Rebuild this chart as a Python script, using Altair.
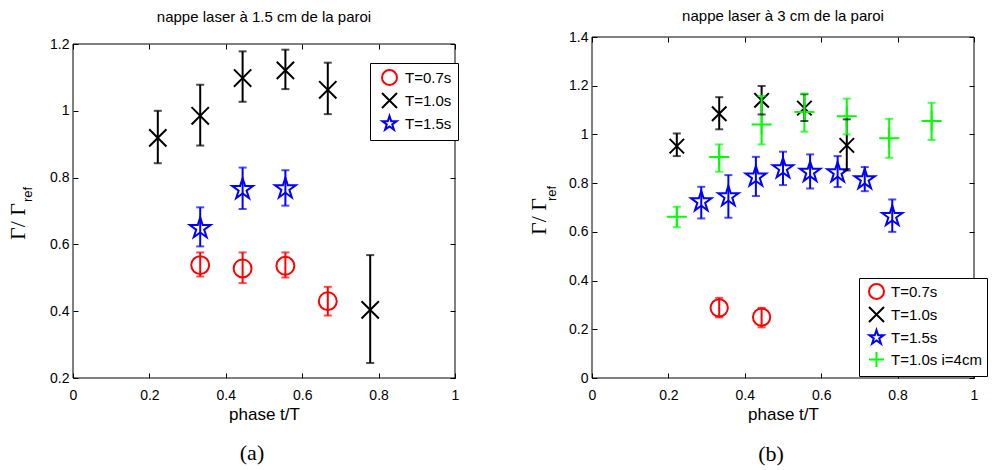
import altair as alt
import pandas as pd

# ---------------- data ----------------
series_a = ["T=0.7s", "T=1.0s", "T=1.5s"]
series_b = ["T=0.7s", "T=1.0s", "T=1.5s", "T=1.0s i=4cm"]

# panel (a): laser sheet at 1.5 cm
a07_x = [0.333, 0.444, 0.556, 0.667]
a07_y = [0.538, 0.528, 0.536, 0.430]
a07_lo = [0.504, 0.484, 0.501, 0.387]
a07_hi = [0.576, 0.576, 0.576, 0.473]

a10_x = [0.222, 0.333, 0.444, 0.556, 0.667, 0.778]
a10_y = [0.919, 0.985, 1.098, 1.121, 1.063, 0.404]
a10_lo = [0.843, 0.896, 1.027, 1.065, 0.990, 0.245]
a10_hi = [1.000, 1.078, 1.178, 1.183, 1.144, 0.568]

a15_x = [0.333, 0.444, 0.556]
a15_y = [0.648, 0.765, 0.767]
a15_lo = [0.594, 0.706, 0.716]
a15_hi = [0.711, 0.830, 0.822]

# panel (b): laser sheet at 3 cm
b07_x = [0.333, 0.444]
b07_y = [0.288, 0.250]
b07_lo = [0.249, 0.208]
b07_hi = [0.329, 0.288]

b10_x = [0.222, 0.333, 0.444, 0.556, 0.667]
b10_y = [0.952, 1.085, 1.140, 1.108, 0.955]
b10_lo = [0.911, 1.021, 1.082, 1.055, 0.852]
b10_hi = [1.004, 1.153, 1.199, 1.165, 1.062]

b15_x = [0.286, 0.357, 0.429, 0.500, 0.571, 0.643, 0.714, 0.786]
b15_y = [0.724, 0.745, 0.826, 0.860, 0.845, 0.843, 0.815, 0.664]
b15_lo = [0.655, 0.658, 0.747, 0.792, 0.778, 0.784, 0.767, 0.600]
b15_hi = [0.785, 0.833, 0.908, 0.929, 0.918, 0.911, 0.866, 0.733]

b10i_x = [0.222, 0.333, 0.444, 0.556, 0.667, 0.778, 0.889]
b10i_y = [0.662, 0.907, 1.041, 1.092, 1.075, 0.984, 1.055]
b10i_lo = [0.619, 0.847, 0.959, 1.011, 1.000, 0.904, 0.977]
b10i_hi = [0.703, 0.959, 1.158, 1.168, 1.147, 1.064, 1.130]

x_ticks = [0, 0.2, 0.4, 0.6, 0.8, 1]
ya_ticks = [0.2, 0.4, 0.6, 0.8, 1.0, 1.2]
yb_ticks = [0, 0.2, 0.4, 0.6, 0.8, 1.0, 1.2, 1.4]

titles = ["nappe laser à 1.5 cm de la paroi", "nappe laser à 3 cm de la paroi"]
x_title = "phase t/T"
y_title_main = "Γ/ Γ"
y_title_sub = "ref"
captions = ["(a)", "(b)"]

# ---------------- styles ----------------
colors = ["#ff0000", "#000000", "#0000ff", "#00ff00"]
STAR = ("M0,-1L0.2245,-0.309L0.951,-0.309L0.363,0.118L0.588,0.809L0,0.382"
        "L-0.588,0.809L-0.363,0.118L-0.951,-0.309L-0.2245,-0.309Z")
XMARK = "M-1,-1L1,1M1,-1L-1,1"
PLUS = "M-1,0L1,0M0,-1L0,1"
shapes = ["circle", XMARK, STAR, PLUS]
sizes_a = [320, 300, 480, 400]
sizes_b = [300, 210, 460, 400]

SANS = "Liberation Sans"
SERIF = "Liberation Serif"


def frame(groups, names):
    rows = []
    for (xs, ys, lo, hi), name in zip(groups, names):
        k = names.index(name)
        for a, b, c, d in zip(xs, ys, lo, hi):
            rows.append({"x": a, "y": b, "lo": c, "hi": d, "series": name, "col": colors[k]})
    return pd.DataFrame(rows)


df_a = frame([(a07_x, a07_y, a07_lo, a07_hi), (a10_x, a10_y, a10_lo, a10_hi),
              (a15_x, a15_y, a15_lo, a15_hi)], series_a)
df_b = frame([(b07_x, b07_y, b07_lo, b07_hi), (b10_x, b10_y, b10_lo, b10_hi),
              (b15_x, b15_y, b15_lo, b15_hi), (b10i_x, b10i_y, b10i_lo, b10i_hi)], series_b)


def panel(df, names, sizes, ydom, yticks, title, title_offset, W, H, top_gap,
          legend_xy, legend_pad, ytitle_pos, caption, caption_pos):
    n = len(names)
    xs = alt.Scale(domain=[0, 1], nice=False, zero=False)
    ys = alt.Scale(domain=ydom, nice=False, zero=False, range=[H, top_gap])
    cs = alt.Scale(domain=names, range=colors[:n])
    ss = alt.Scale(domain=names, range=shapes[:n])
    ax_bottom = alt.Axis(orient="bottom", values=x_ticks, format="~g", offset=-5, tickSize=5,
                         domain=False, grid=False, labelFlush=False, labelOverlap=False,
                         labelPadding=10, title=x_title, titleFont=SANS, titleFontSize=17,
                         titleFontWeight="normal", titlePadding=4)
    ax_left = alt.Axis(orient="left", values=yticks, format="~g", offset=-5, tickSize=5,
                       domain=False, grid=False, labelFlush=False, labelOverlap=False,
                       labelPadding=4, title=None)
    ax_top = alt.Axis(orient="top", values=x_ticks, offset=-(5 + top_gap), tickSize=5,
                      domain=False, grid=False, labels=False, title=None)
    ax_right = alt.Axis(orient="right", values=yticks, offset=-5, tickSize=5, domain=False,
                        grid=False, labels=False, title=None)
    legend = alt.Legend(orient="none", legendX=legend_xy[0], legendY=legend_xy[1],
                        title=None, strokeColor="black", fillColor="white",
                        padding=legend_pad[0], symbolOffset=legend_pad[1],
                        symbolSize=225, symbolStrokeWidth=2, labelFont=SANS,
                        labelFontSize=15, labelColor="black", rowPadding=0,
                        labelOffset=legend_pad[2])

    base = alt.Chart(df)
    box = alt.Chart(alt.Data(values=[{}])).mark_rect(
        fillOpacity=0, stroke="black", strokeWidth=1).encode(
        x=alt.XDatum(x_ticks[0], scale=xs, axis=ax_bottom),
        x2=alt.X2Datum(x_ticks[-1]),
        y=alt.YDatum(ydom[0], scale=ys, axis=ax_left),
        y2=alt.Y2Datum(ydom[1]),
    )
    layers = [box]
    for k, name in enumerate(names):
        if k == 0:
            col_enc = alt.Color("series:N", scale=cs, legend=legend)
        else:
            col_enc = alt.Color("series:N", scale=cs)
        layers.append(
            base.transform_filter(alt.datum.series == name)
            .mark_point(filled=False, strokeWidth=2, opacity=1, size=sizes[k])
            .encode(
                x=alt.X("x:Q", scale=xs, axis=None),
                y=alt.Y("y:Q", scale=ys, axis=None),
                color=col_enc,
                shape=alt.Shape("series:N", scale=ss),
            )
        )
    rules = base.mark_rule(strokeWidth=2).encode(
        x=alt.X("x:Q", scale=xs, axis=ax_top),
        y=alt.Y("lo:Q", scale=ys, axis=ax_right),
        y2="hi:Q",
        color=alt.Color("col:N", scale=None),
    )
    cap_lo = base.mark_tick(orient="horizontal", size=8, thickness=2).encode(
        x=alt.X("x:Q", scale=xs, axis=None),
        y=alt.Y("lo:Q", scale=ys, axis=None),
        color=alt.Color("col:N", scale=None),
    )
    cap_hi = base.mark_tick(orient="horizontal", size=8, thickness=2).encode(
        x=alt.X("x:Q", scale=xs, axis=None),
        y=alt.Y("hi:Q", scale=ys, axis=None),
        color=alt.Color("col:N", scale=None),
    )
    one = alt.Data(values=[{}])
    t_main = alt.Chart(one).mark_text(angle=270, align="left", baseline="alphabetic",
                                      font=SERIF, fontSize=22, color="black").encode(
        x=alt.value(ytitle_pos[0]), y=alt.value(ytitle_pos[1]), text=alt.value(y_title_main))
    t_sub = alt.Chart(one).mark_text(angle=270, align="left", baseline="alphabetic",
                                     font=SANS, fontSize=13, color="black").encode(
        x=alt.value(ytitle_pos[2]), y=alt.value(ytitle_pos[3]), text=alt.value(y_title_sub))
    t_cap = alt.Chart(one).mark_text(align="center", baseline="middle",
                                     font=SERIF, fontSize=22, color="black").encode(
        x=alt.value(caption_pos[0]), y=alt.value(caption_pos[1]), text=alt.value(caption))

    layers += [rules, cap_lo, cap_hi, t_main, t_sub, t_cap]
    return alt.layer(*layers).properties(
        width=W, height=H,
        title=alt.TitleParams(text=title, font=SANS, fontSize=15, fontWeight="normal",
                              color="black", anchor="middle", offset=title_offset,
                              baseline="bottom"),
    )


# left plot area spans 7..341 of a 341 px tall cell (reference frame is 7 px lower)
left = panel(df_a, series_a, sizes_a, [0.2, 1.2], ya_ticks, titles[0], -3, 382, 341, 7,
             (297, 26), (6, 5, 7), (-48, 203, -41, 165), captions[0], (179, 416))
right = panel(df_b, series_b, sizes_b, [0, 1.4], yb_ticks, titles[1], -9, 382, 341, 0,
              (267, 241), (5, 4, 6), (-46, 198, -36, 164), captions[1], (179, 417))

chart = alt.hconcat(left, right, spacing=67).resolve_scale(
    x="independent", y="independent", color="independent", shape="independent"
).resolve_legend(color="independent", shape="independent").properties(
    padding={"left": -2, "top": 0, "right": 0, "bottom": 0}
).configure_view(stroke="transparent").configure_axis(
    labelFont=SANS, labelFontSize=14, labelColor="black", tickColor="black", tickWidth=1,
    titleColor="black"
)

chart.save("out.html", embed_options={"renderer": "svg", "actions": False})
